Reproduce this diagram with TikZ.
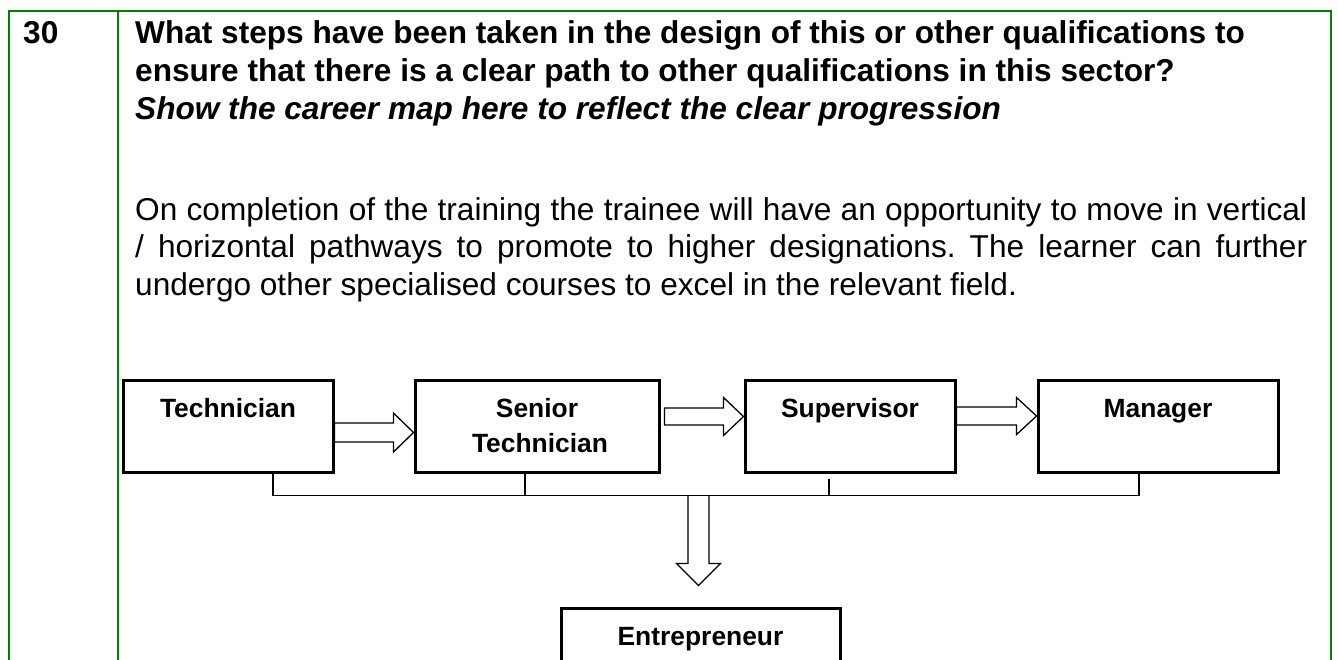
\documentclass[tikz,border=0pt]{standalone}
\usepackage{fontspec}
\setmainfont{Liberation Sans}
\usetikzlibrary{calc}
\definecolor{framegreen}{RGB}{0,128,0}
% right-pointing block arrow: #1 start, #2 tip, #3 shaft half width, #4 head half width, #5 head length
\newcommand{\rblock}[5]{\draw[barrow] ($(#1)+(0,-#3)$) -- ($(#2)+(-#5,-#3)$) -- ($(#2)+(-#5,-#4)$) -- (#2) -- ($(#2)+(-#5,#4)$) -- ($(#2)+(-#5,#3)$) -- ($(#1)+(0,#3)$) -- cycle;}
% down-pointing block arrow
\newcommand{\dblock}[5]{\draw[barrow] ($(#1)+(-#3,0)$) -- ($(#2)+(-#3,-#5)$) -- ($(#2)+(-#4,-#5)$) -- (#2) -- ($(#2)+(#4,-#5)$) -- ($(#2)+(#3,-#5)$) -- ($(#1)+(#3,0)$);}
\begin{document}
\begin{tikzpicture}[x=1pt,y=-1pt,
  cbox/.style={draw, line width=3pt, minimum height=92pt, inner sep=0pt},
  lbl/.style={font=\fontsize{26.4}{30}\selectfont\bfseries, inner sep=0pt, anchor=base},
  barrow/.style={draw, line width=1.3pt, line join=miter},
  bus/.style={draw, line width=1.5pt},
  frame/.style={draw=framegreen, line width=2pt}]
\useasboundingbox (0,0) rectangle (1338,659);
\clip (0,0) rectangle (1338,659);

% table frame
\draw[frame] (8.5,700) -- (8.5,11) -- (1331,11) -- (1331,700);
\draw[frame] (118,11) -- (118,700);

% texts
\node[anchor=base west, inner sep=0pt, font=\fontsize{31.6}{38}\selectfont\bfseries] (num) at (23,43) {30};
\node[anchor=base west, inner sep=0pt] (head) at (135,43) {\parbox[t]{1190pt}{\fontsize{31.6}{38}\selectfont\bfseries\raggedright
What steps have been taken in the design of this or other qualifications to\\
ensure that there is a clear path to other qualifications in this sector?\\
\textit{Show the career map here to reflect the clear progression}}};
\node[anchor=base west, inner sep=0pt] (para) at (135,220) {\parbox[t]{1172pt}{\fontsize{31.6}{37.5}\selectfont\frenchspacing\tolerance=10000\hbadness=10000
On completion of the training the trainee will have an opportunity to move in vertical\linebreak
/ horizontal pathways to promote to higher designations. The learner can further\linebreak
undergo other specialised courses to excel in the relevant field.}};

% boxes
\node[cbox, minimum width=210pt] (tech) at (228,426) {};
\node[cbox, minimum width=244pt] (sen) at (537,426) {};
\node[cbox, minimum width=210pt] (sup) at (850,426) {};
\node[cbox, minimum width=240pt] (man) at (1158,426) {};
\node[cbox, minimum width=279pt] (ent) at (700.5,654) {};

% labels
\node[lbl] (techL) at ([yshift=9pt]tech.center) {Technician};
\node[lbl] (senL1) at ([yshift=9pt]sen.center) {Senior};
\node[lbl] (senL2) at ([xshift=3pt,yshift=-26pt]sen.center) {Technician};
\node[lbl] (supL) at ([yshift=9pt]sup.center) {Supervisor};
\node[lbl] (manL) at ([yshift=9pt]man.center) {Manager};
\node[lbl] (entL) at ([yshift=9pt]ent.center) {Entrepreneur};

% horizontal block arrows
\coordinate (a1s) at ([yshift=-6.5pt]tech.east);
\coordinate (a1t) at (sen.west |- a1s);
\rblock{a1s}{a1t}{9.5}{19.5}{20}
\coordinate (a2s) at ([xshift=4pt,yshift=9.5pt]sen.east);
\coordinate (a2t) at (sup.west |- a2s);
\rblock{a2s}{a2t}{8.5}{19}{20}
\coordinate (a3s) at ([yshift=10pt]sup.east);
\coordinate (a3t) at (man.west |- a3s);
\rblock{a3s}{a3t}{9}{18.5}{20}

% bus
\coordinate (busL) at ($(tech.south)+(45,22)$);
\coordinate (busR) at ($(man.south)+(-19,22)$);
\draw[bus] ($(tech.south)+(45,0)$) -- (busL) -- (busR) -- ($(man.south)+(-19,0)$);
\draw[bus] ($(sen.south)+(-12,0)$) -- ($(sen.south)+(-12,22)$);
\draw[bus] ($(sup.south)+(-21,5)$) -- ($(sup.south)+(-21,22)$);

% down block arrow
\coordinate (a4t) at ($(ent.north)+(-2,-21)$);
\coordinate (a4s) at (a4t |- busL);
\dblock{a4s}{a4t}{10.5}{22}{22}
\end{tikzpicture}
\end{document}
